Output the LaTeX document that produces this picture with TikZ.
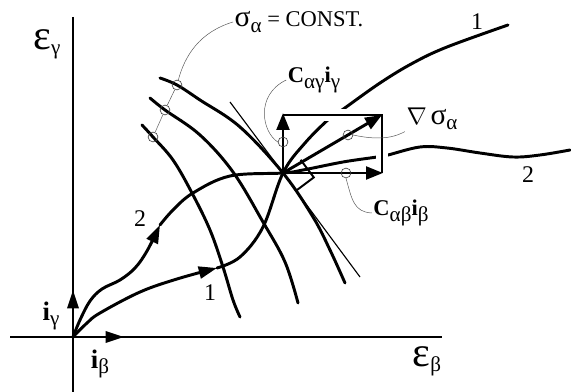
\documentclass[tikz,border=0pt]{standalone}
\usepackage{fontspec}
\setmainfont{Liberation Serif}
\usetikzlibrary{arrows.meta}
\tikzset{
  axis/.style={line width=0.9pt},
  curve/.style={
    line width=2.1pt,
    line cap=round,
    line join=round
  },
  thinline/.style={line width=0.8pt},
  leader/.style={line width=0.35pt, black!65},
  ring/.style={
    circle,
    draw=black!75,
    line width=0.45pt,
    minimum size=7pt,
    inner sep=0pt
  },
  vec/.style={line width=2.1pt, -{Triangle[length=12pt,width=9pt]}},
  unitvec/.style={line width=1.8pt, -{Triangle[length=13pt,width=8pt]}},
  midarrow/.style={-{Triangle[length=13pt,width=8.5pt]}},
  lbl/.style={font=\fontsize{16}{18}\selectfont, inner sep=1pt},
  num/.style={font=\fontsize{17}{19}\selectfont, inner sep=1pt}
}
\newcommand{\bigeps}{{\fontsize{30}{30}\selectfont ε}}
\newcommand{\gsig}{{\fontsize{21}{21}\selectfont σ}}
\newcommand{\dn}[1]{\raisebox{-0.5ex}{\fontsize{15}{15}\selectfont #1}}

\begin{document}
\begin{tikzpicture}[x=0.025cm, y=-0.025cm]
  \useasboundingbox (0,0) rectangle (571,392);
  \coordinate (O) at (73,337);
  \coordinate (P) at (283,173);

  \draw[axis] (73,17) -- (73,392);
  \draw[axis] (10,337) -- (442,337);

  % lines of constant sigma
  \draw[curve] plot[smooth, tension=0.6] coordinates {(160,78) (177,85) (200,100) (240,127) (283,173) (313,217) (330,250) (345,283)};
  \draw[curve] plot[smooth, tension=0.6] coordinates {(150,98) (165,110) (200,135) (233,172) (263,222) (285,262) (298,303)};
  \draw[curve] plot[smooth, tension=0.6] coordinates {(142,125) (153,137) (173,160) (192,193) (210,230) (223,267) (233,300) (240,317)};
  \draw[thinline] (230,102) -- (P) -- (360,277);

  % paths 1 and 2
  \draw[curve, midarrow] plot[smooth, tension=0.6] coordinates {(73,337) (87,323) (100,313) (140,292) (177,279) (217,268)};
  \draw[curve] plot[smooth, tension=0.6] coordinates {(217,268) (240,257) (263,227) (283,173) (305,143) (330,118) (342,110) (380,83) (413,63) (447,47) (508,25)};
  \draw[curve, midarrow] plot[smooth, tension=0.6] coordinates {(73,337) (80,320) (90,301) (102,289) (120,280) (135,268) (147,251) (160,225)};
  \draw[curve] plot[smooth, tension=0.6] coordinates {(160,225) (173,210) (193,193) (230,176) (283,173) (303,170) (343,162) (377,157) (388,155) (420,147) (447,148) (480,153) (513,157) (540,155) (570,150)};

  % box of components
  \draw[white, line width=8pt] (283,115) -- (382,115) -- (382,173);
  \draw[thinline] (283,115) -- (382,115) -- (382,173);
  \draw[line width=1.4pt] (300.6,159.8) -- (313.8,177.4) -- (296.2,190.6);

  \coordinate (Vg) at (283,113);
  \coordinate (Vb) at (383,173);
  \coordinate (Vd) at (382,115);
  \draw[vec] (P) -- (Vg);
  \draw[vec] (P) -- (Vb);
  \draw[vec] (P) -- (Vd);

  \coordinate (Ig) at (73,290);
  \coordinate (Ib) at (124,337);
  \draw[unitvec] (O) -- (Ig);
  \draw[unitvec] (O) -- (Ib);

  \node[ring] (r-a) at (177,85) {};
  \node[ring] (r-b) at (165,110) {};
  \node[ring] (r-c) at (153,137) {};
  \node[ring] (r-vg) at (283,142) {};
  \node[ring] (r-grad) at (348,135) {};
  \node[ring] (r-hb) at (346,173) {};

  \node[lbl] (lbl-eg) at (47,44) {\bigeps\dn{γ}};
  \node[lbl] (lbl-eb) at (427,361) {\bigeps\dn{β}};
  \node[lbl] (lbl-ig) at (51,316) {{\fontsize{19}{19}\selectfont\textbf{i}}\dn{γ}};
  \node[lbl] (lbl-ib) at (100,364) {{\fontsize{19}{19}\selectfont\textbf{i}}\dn{β}};
  \node[lbl] (lbl-sig) at (299,22) {\gsig\dn{α} = CONST.};
  \node[lbl] (lbl-cg) at (314,80) {\textbf{C}\dn{αγ}\textbf{i}\dn{γ}};
  \node[lbl] (lbl-grad) at (432,119) {$\nabla$\,\gsig\dn{α}};
  \node[lbl] (lbl-cb) at (401,213) {\textbf{C}\dn{αβ}\textbf{i}\dn{β}};
  \node[num] (lbl-1a) at (210,293) {1};
  \node[num] (lbl-2a) at (140,219) {2};
  \node[num] (lbl-1b) at (477,22) {1};
  \node[num] (lbl-2b) at (528,175) {2};

  \draw[leader] (r-c) -- (r-b) (r-b) -- (r-a);
  \draw[leader] (r-a) .. controls (185,55) and (200,32) .. (lbl-sig.west);
  \draw[leader] (r-vg.west) .. controls (262,132) and (255,95) .. (lbl-cg.west);
  \draw[leader] (r-grad.east) .. controls (385,142) and (398,135) .. (lbl-grad.south west);
  \draw[leader] (r-hb.south) .. controls (352,200) and (354,212) .. (lbl-cb.west);
\end{tikzpicture}
\end{document}
